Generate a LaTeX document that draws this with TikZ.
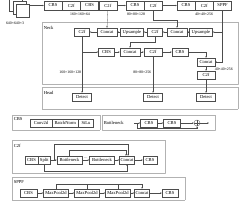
\documentclass[tikz,border=0pt]{standalone}
\usepackage{fontspec}
\setmainfont{Liberation Serif}
\usetikzlibrary{positioning,arrows.meta,calc}

\begin{document}
\begin{tikzpicture}[
    x=0.5mm, y=-0.5mm,
    node distance=0pt,
    blk/.style={
        rectangle, draw=black!70, fill=white,
        minimum width=#1, minimum height=4mm, inner sep=0.5pt,
        font=\fontsize{6.5}{7}\selectfont
    },
    blk/.default=9mm,
    bb/.style={blk=9mm, minimum height=4.5mm},
    img/.style={rectangle, draw=black!70, fill=white, minimum size=6.5mm},
    grp/.style={draw=black!30, densely dotted},
    arrow/.style={-{Stealth[length=2.5pt,width=2pt]}, draw=black!70, thin},
    wire/.style={draw=black!70, thin},
    lbl/.style={font=\fontsize{5.5}{6}\selectfont, inner sep=1pt},
    ttl/.style={font=\fontsize{6.5}{7}\selectfont, anchor=west, inner sep=1pt},
    plus/.style={circle, draw=black!70, fill=white, inner sep=0pt, minimum size=3mm,
        path picture={\draw[black!70]
            (path picture bounding box.north) -- (path picture bounding box.south)
            (path picture bounding box.west) -- (path picture bounding box.east);}}
]
\useasboundingbox (0,0) rectangle (240,200);

% Input image
\node[img] (img0) at (16,5) {};
\node[img] (img1) at (19.5,8) {};
\node[img] (img2) at (23,11) {};
\node[lbl] (insize) at (15,23) {640×640×3};

% Backbone
\node[bb] (cbs1) at (53,5.5) {CBS};
\node[bb, right=of cbs1] (c2f1) {C2f};
\node[bb, right=of c2f1] (cbs2) {CBS};
\node[bb, right=of cbs2] (c2f2) {C2f};
\node[bb] (cbs3) at (135,5.5) {CBS};
\node[bb, right=of cbs3] (c2f3) {C2f};
\node[bb] (cbs4) at (186,5.5) {CBS};
\node[bb, right=of cbs4] (c2f4) {C2f};
\node[bb, right=of c2f4] (sppf) {SPPF};

\draw[arrow] (img2.east |- cbs1.west) -- (cbs1.west);
\draw[arrow] (c2f2.east) -- (cbs3.west);
\draw[arrow] (c2f3.east) -- (cbs4.west);

\node[lbl] (size1) at (80,14) {160×160×64};
\node[lbl] (size2) at (136,14) {80×80×128};
\node[lbl] (size3) at (204,14) {40×40×256};

% Neck
\draw[grp] (42,22) rectangle (238,84);
\node[ttl] (neck) at (43,28) {Neck};

\node[blk=7.5mm] (n1) at (82,32) {C2f};
\node[blk=10mm] (n2) at (107,32) {Concat};
\node[blk=11.5mm] (n3) at (132,32) {Upsample};
\node[blk=7.5mm] (n4) at (155,32) {C2f};
\node[blk=10mm] (n5) at (177,32) {Concat};
\node[blk=11.5mm] (n6) at (201,32) {Upsample};

\node[blk=8mm] (n8) at (106.5,52) {CBS};
\node[blk=10mm] (n9) at (130,52) {Concat};
\node[blk=9mm] (n10) at (153,52) {C2f};
\node[blk=8mm] (n11) at (180,52) {CBS};
\node[blk=9mm] (n7) at (206,62) {Concat};
\node[blk=9mm] (n12) at (206,75) {C2f};

\draw[arrow] (sppf.south) -- (sppf.south |- n7.east) -- (n7.east);
\draw[arrow] (sppf.south |- n6.east) -- (n6.east);
\draw[arrow] (n6) -- (n5);
\draw[arrow] (n5) -- (n4);
\draw[arrow] (n4) -- (n3);
\draw[arrow] (n3) -- (n2);
\draw[arrow] (n2) -- (n1);
\draw[arrow] (c2f2.south) -- (n2.north);
\draw[arrow] (c2f3.south) -- ++(0,10) -| (n5.north);
\draw[arrow] (n4.south) -- ++(0,6) -| (n9.north);

\draw[arrow] (n1.south |- n8.west) -- (n8.west);
\draw[arrow] (n8) -- (n9);
\draw[arrow] (n9) -- (n10);
\draw[arrow] (n10) -- (n11);
\draw[arrow] (n11.east) -| (n7.north);
\draw[arrow] (n7) -- (n12);

\node[lbl, anchor=east] (size4) at (82,72) {160×160×128};
\node[lbl, anchor=east] (size5) at (152,72) {80×80×256};
\node[lbl, anchor=west] (size6) at (214,69) {40×40×256};

% Head
\draw[grp] (42,87) rectangle (238,109);
\node[ttl] (head) at (43,93) {Head};

\node[blk=9.5mm] (d1) at (82,97) {Detect};
\node[blk=9.5mm] (d2) at (153,97) {Detect};
\node[blk=9.5mm] (d3) at (206,97) {Detect};

\draw[arrow] (n1) -- (d1);
\draw[arrow] (n10) -- (d2);
\draw[arrow] (n12) -- (d3);

% CBS block
\draw[grp] (12,115) rectangle (100,130);
\node[ttl] (tcbs) at (13,119) {CBS};
\node[blk=11mm] (conv) at (41,123) {Conv2d};
\node[blk=13mm, right=of conv] (bn) {BatchNorm};
\node[blk=7.5mm, right=of bn] (silu) {SiLu};

% Bottleneck block
\draw[grp] (102,115) rectangle (215,130);
\node[ttl] (tbot) at (103,123) {Bottleneck};
\coordinate (bin) at (134,123);
\node[blk=8.5mm] (bc1) at (149,123) {CBS};
\node[blk=8.5mm] (bc2) at (172,123) {CBS};
\node[plus] (add) at (197,123) {};
\coordinate (bout) at (209,123);

\draw[arrow] (bin) -- (bc1);
\draw[arrow] (bc1) -- (bc2);
\draw[arrow] (bc2) -- (add);
\draw[arrow] (add) -- (bout);
\draw[arrow] (bin) ++(3,0) -- ++(0,5.5) -| (add.south);

% C2f block
\draw[grp] (12,140) rectangle (165,173);
\node[ttl] (tc2f) at (13,146) {C2f};
\node[blk=6.5mm] (c1) at (31.5,160) {CBS};
\node[blk=6mm, right=of c1] (c2) {Split};
\node[blk=12.5mm] (c3) at (69.5,160) {Bottleneck};
\node[blk=12.5mm] (c4) at (102,160) {Bottleneck};
\node[blk=7.5mm] (c5) at (127,160) {Concat};
\node[blk=7mm] (c6) at (150,160) {CBS};
\coordinate (sp) at ($(c2.east)!.5!(c3.west)$);

\draw[arrow] (c2) -- (c3);
\draw[arrow] (c3) -- node[above, lbl] {···} (c4);
\draw[arrow] (c4) -- (c5);
\draw[arrow] (c5) -- (c6);
\draw[arrow] (sp) -- ++(0,-16) -| ([xshift=1.5pt]c5.north);
\draw[arrow] (c3.north) -- ++(0,-6) -| ([xshift=-1.5pt]c5.north);
\draw[arrow] (c2.south) -- ++(0,7) -| (c5.south);

% SPPF block
\draw[grp] (12,177) rectangle (185,199.7);
\node[ttl] (tsppf) at (13,182) {SPPF};
\node[blk=8.5mm] (p1) at (28.5,193) {CBS};
\node[blk=12.5mm] (p2) at (56,193) {MaxPool2d};
\node[blk=12.5mm] (p3) at (87,193) {MaxPool2d};
\node[blk=12.5mm] (p4) at (118,193) {MaxPool2d};
\node[blk=7.5mm] (p5) at (142,193) {Concat};
\node[blk=8mm] (p6) at (170,193) {CBS};

\draw[arrow] (p1) -- (p2);
\draw[arrow] (p2) -- (p3);
\draw[arrow] (p3) -- (p4);
\draw[arrow] (p4) -- (p5);
\draw[arrow] (p5) -- (p6);
\draw[arrow] (p2.north) -- ++(0,-5) -| (p5.north);
\draw[wire] (p3.north) -- ++(0,-5);
\draw[wire] (p4.north) -- ++(0,-5);

\end{tikzpicture}
\end{document}
